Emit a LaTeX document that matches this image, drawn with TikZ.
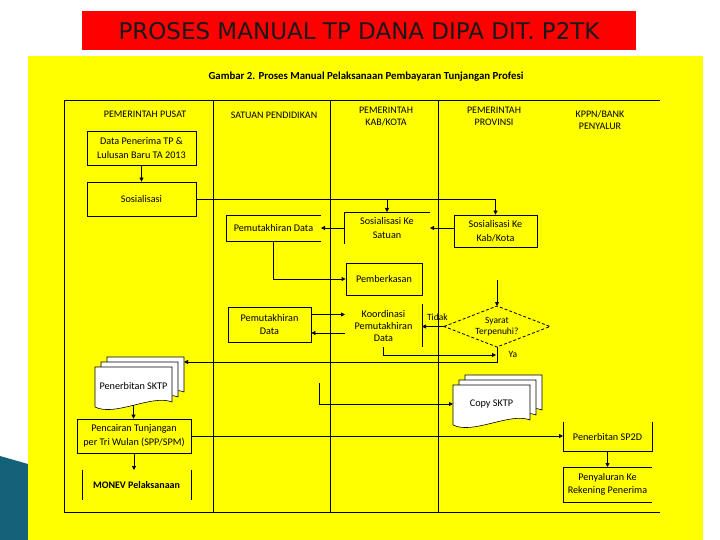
\documentclass[tikz,border=0pt]{standalone}
\usepackage{fontspec}
\setmainfont{Carlito}
\newfontfamily\titlefont{DejaVu Sans}
\usepackage{xcolor}
\usetikzlibrary{arrows.meta,positioning,calc}
\definecolor{slideyellow}{RGB}{255,255,0}
\definecolor{titlered}{RGB}{255,0,0}
\definecolor{decoteal}{RGB}{20,98,122}
\tikzset{
  lanehead/.style={font=\fontsize{10}{12.5}\selectfont,align=center},
  procbox/.style={draw=black,line width=0.8pt,align=center,inner sep=2pt,
    font=\fontsize{10.2}{13.5}\selectfont},
  openbox/.style={procbox,draw=none,outer sep=0pt},
  boxedge/.style={line width=0.8pt},
  lanerule/.style={line width=0.8pt},
  flowarrow/.style={-{Triangle[length=4pt,width=4pt]},line width=0.8pt},
  flowlabel/.style={font=\fontsize{9.5}{11}\selectfont},
  docpage/.pic={
    \draw[fill=white,line width=0.6pt] (0,0) -- (77,0) -- (77,35)
      .. controls (57,27) and (20,50) .. (0,40) -- cycle;
  }
}

\begin{document}
\begin{tikzpicture}[x=1pt,y=-1pt]
  % slide background, title bar and corner decoration
  \useasboundingbox[fill=white] (0,0) rectangle (720,540);
  \fill[decoteal] (0,456) -- (28,464) -- (28,540) -- (0,540) -- cycle;
  \fill[slideyellow] (28,56) rectangle (703,540);
  \fill[titlered] (82,11) rectangle (636,50);
  \node[font=\titlefont\fontsize{23}{26}\selectfont,text=black!90] (title) at (359,31)
    {PROSES MANUAL TP DANA DIPA DIT. P2TK};
  \node[font=\bfseries\fontsize{10.8}{12}\selectfont] (caption) at (366,77)
    {Gambar 2. Proses Manual Pelaksanaan Pembayaran Tunjangan Profesi};

  % swimlane frame
  \draw[lanerule] (64,512) -- (64,100) -- (660,100);
  \draw[lanerule] (64,512) -- (660,512);
  \foreach \lx in {213,330,438}
    \draw[lanerule] (\lx,100) -- (\lx,512);
  \node[lanehead] (hpusat) at (145,114) {PEMERINTAH PUSAT};
  \node[lanehead] (hsatuan) at (274,115) {SATUAN PENDIDIKAN};
  \node[lanehead] (hkab) at (386,116.5) {PEMERINTAH\\KAB/KOTA};
  \node[lanehead] (hprov) at (494,116.5) {PEMERINTAH\\PROVINSI};
  \node[lanehead] (hkppn) at (600,120) {KPPN/BANK\\PENYALUR};

  % process steps
  \node[procbox,minimum width=109pt,minimum height=34pt] (data) at (141.5,148)
    {Data Penerima TP \&\\Lulusan Baru TA 2013};
  \node[procbox,minimum width=109pt,minimum height=34pt] (sos) at (141.5,199)
    {Sosialisasi};
  \node[openbox,minimum width=95pt,minimum height=26pt] (mutakhir) at (273.5,228)
    {Pemutakhiran Data};
  \node[openbox,minimum width=86pt,minimum height=32pt] (satuan) at (387,228)
    {Sosialisasi Ke\\Satuan};
  \node[procbox,minimum width=83pt,minimum height=32pt] (kabkota) at (495.5,231)
    {Sosialisasi Ke\\Kab/Kota};
  \node[procbox,minimum width=76pt,minimum height=32pt] (berkas) at (384,279)
    {Pemberkasan};
  \node[procbox,minimum width=83pt,minimum height=35pt] (mutakhirb) at (269.5,324.5)
    {Pemutakhiran\\Data};
  \node[openbox,minimum width=77pt,minimum height=43pt,
        font=\fontsize{10.2}{12}\selectfont] (koord) at (383.5,325.5)
    {Koordinasi\\Pemutakhiran\\Data};
  \node[openbox,minimum width=106pt,minimum height=41pt,
        font=\fontsize{9.5}{11.5}\selectfont] (cek) at (497,326.5)
    {Syarat\\Terpenuhi?};
  \draw[boxedge,dash pattern=on 3pt off 2pt] (cek.west) -- (cek.north)
    -- (cek.east) -- (cek.south) -- cycle;

  % document stacks
  \pic at (107,357) {docpage};
  \pic at (101,362) {docpage};
  \pic at (95,367) {docpage};
  \node[openbox,minimum width=77pt,minimum height=38pt] (sktp) at (133.5,386)
    {Penerbitan SKTP};
  \pic at (465,375) {docpage};
  \pic at (459,380) {docpage};
  \pic at (453,385) {docpage};
  \node[openbox,minimum width=77pt,minimum height=38pt] (copy) at (491.5,404)
    {Copy SKTP};

  \node[procbox,minimum width=114pt,minimum height=34pt] (cair) at (134,436)
    {Pencairan Tunjangan\\per Tri Wulan (SPP/SPM)};
  \node[openbox,minimum width=109pt,minimum height=30pt,
        font=\bfseries\fontsize{10}{12}\selectfont] (monev) at (136.5,485)
    {MONEV Pelaksanaan};
  \node[openbox,minimum width=89pt,minimum height=29pt] (sp2d) at (607.5,436.5)
    {Penerbitan SP2D};
  \node[openbox,minimum width=89pt,minimum height=35pt] (salur) at (607.5,484.5)
    {Penyaluran Ke\\Rekening Penerima};

  % visible edges of the open boxes
  \draw[boxedge] (mutakhir.north east) -- (mutakhir.north west)
    -- (mutakhir.south west) -- (mutakhir.south east);
  \draw[boxedge] (satuan.north east) -- (satuan.north west) -- (satuan.south west);
  \draw[boxedge] (koord.north east) -- (koord.south east);
  \draw[boxedge] (monev.north west) -- (monev.south west);
  \draw[boxedge] (monev.north east) -- (monev.south east);
  \draw[boxedge] (sp2d.north west) -- (sp2d.south west) -- (sp2d.south east)
    -- (sp2d.north east);
  \draw[boxedge] (salur.north east) -- (salur.north west) -- (salur.south west)
    -- (salur.south east);

  % connectors
  \coordinate (cekin) at (497,280);
  \coordinate (yajoin) at (497,362);
  \coordinate (yamerge) at (496,355);
  \coordinate (sktpin) at (184,362);
  \coordinate (copyfrom) at (319,383);
  \draw[flowarrow] (data.south) -- (sos.north);
  \draw[flowarrow] (sos.east) -| (kabkota.north);
  \draw[flowarrow] (sos.east -| satuan.north) -- (satuan.north);
  \draw[flowarrow] (kabkota.west |- satuan.east) -- (satuan.east);
  \draw[flowarrow] (satuan.west) -- (mutakhir.east);
  \draw[flowarrow] (mutakhir.south) |- (berkas.west);
  \draw[flowarrow] ([yshift=10pt]mutakhirb.east) -- ([yshift=10pt]mutakhirb.east -| koord.west);
  \draw[flowarrow] ([yshift=-8.5pt]mutakhirb.east -| koord.west) -- ([yshift=-8.5pt]mutakhirb.east);
  \draw[flowarrow] (cekin) -- (cek.north);
  \draw[flowarrow] (cek.west) -- (cek.west -| koord.east)
    node[flowlabel,pos=0.3,above=2pt] (tidak) {Tidak};
  \draw[flowarrow] (koord.south) |- (yamerge);
  \draw[flowarrow] (cek.south) -- (yajoin) -- (sktpin);
  \node[flowlabel,anchor=west] (ya) at (505,354) {Ya};
  \draw[flowarrow] (sktp.south) -- (sktp.south |- cair.north);
  \draw[flowarrow] (cair.south) -- (cair.south |- monev.north);
  \draw[flowarrow] (copyfrom) |- (copy.west);
  \draw[flowarrow] (cair.east) -- (cair.east -| sp2d.west);
  \draw[flowarrow] (sp2d.south) -- (salur.north);
\end{tikzpicture}
\end{document}
